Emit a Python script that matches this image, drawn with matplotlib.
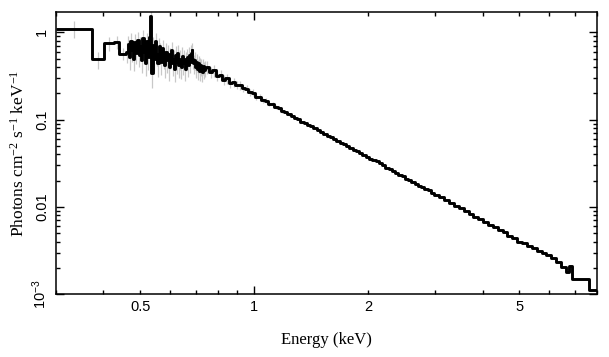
import numpy as np
import matplotlib
matplotlib.use("Agg")
import matplotlib.pyplot as plt
from matplotlib.ticker import LogLocator, FuncFormatter, NullFormatter

# bin edges (keV): coarse low-energy bins, noisy region, fine bins, coarser high-energy bins
low_edges = [0.300, 0.374, 0.402, 0.427, 0.441]
noisy_edges = [0.459, 0.463, 0.467, 0.471, 0.475, 0.479, 0.483, 0.487, 0.491, 0.495,
               0.499, 0.503, 0.507, 0.511, 0.515, 0.519, 0.523, 0.527, 0.531, 0.535,
               0.539, 0.543, 0.547, 0.551, 0.555, 0.559, 0.563, 0.567, 0.571, 0.575,
               0.579, 0.583, 0.587, 0.591, 0.595, 0.599, 0.603, 0.607, 0.611, 0.615,
               0.619, 0.623, 0.627, 0.631, 0.635, 0.639, 0.643, 0.647, 0.651, 0.655,
               0.659, 0.663, 0.667, 0.671, 0.675, 0.679, 0.683, 0.687, 0.691, 0.695,
               0.699, 0.703, 0.707, 0.711, 0.715, 0.719, 0.723, 0.727, 0.731, 0.735,
               0.739]
fine_edges = [0.745, 0.760, 0.775, 0.791, 0.806, 0.823, 0.839, 0.856, 0.873, 0.890,
              0.908, 0.926, 0.945, 0.964, 0.983, 1.003, 1.023, 1.043, 1.064, 1.085,
              1.107, 1.129, 1.152, 1.175, 1.198, 1.222, 1.247, 1.272, 1.297, 1.323,
              1.350, 1.377, 1.404, 1.432, 1.461, 1.490, 1.520, 1.551, 1.582, 1.613,
              1.646, 1.679, 1.712, 1.746, 1.781, 1.817, 1.853, 1.890, 1.928, 1.967,
              2.006, 2.046, 2.087, 2.129, 2.171, 2.215, 2.259, 2.304, 2.350, 2.397,
              2.445, 2.494, 2.544, 2.595, 2.647, 2.700, 2.754, 2.809, 2.865, 2.923]
high_edges = [2.981, 3.075, 3.167, 3.262, 3.360, 3.461, 3.564, 3.671, 3.781, 3.895,
              4.012, 4.132, 4.256, 4.384, 4.515, 4.651, 4.790, 4.934, 5.082, 5.234,
              5.391, 5.553, 5.720, 5.891, 6.068, 6.250, 6.437, 6.630, 6.750, 6.900,
              7.620, 8.000]

# photons cm^-2 s^-1 keV^-1 per bin
low_flux = [1.10, 0.49, 0.748, 0.775, 0.57]
noisy_flux = [0.60, 0.74, 0.52, 0.80, 0.62, 0.50, 0.78, 0.58, 0.82, 0.55,
              0.70, 0.48, 0.86, 0.60, 0.45, 0.80, 0.52, 0.88, 1.52, 0.34,
              0.72, 0.50, 0.80, 0.56, 0.44, 0.70, 0.60, 0.46, 0.66, 0.52,
              0.42, 0.60, 0.48, 0.56, 0.40, 0.52, 0.62, 0.44, 0.50, 0.38,
              0.55, 0.46, 0.58, 0.42, 0.50, 0.40, 0.54, 0.44, 0.50, 0.38,
              0.48, 0.52, 0.42, 0.55, 0.46, 0.58, 0.62, 0.50, 0.44, 0.48,
              0.40, 0.46, 0.38, 0.44, 0.36, 0.42, 0.40, 0.35, 0.41, 0.37,
              0.39]
fine_flux = [0.400, 0.352, 0.365, 0.318, 0.328, 0.286, 0.296, 0.262, 0.270, 0.252,
             0.248, 0.228, 0.226, 0.206, 0.204, 0.183, 0.180, 0.166, 0.165, 0.151,
             0.149, 0.138, 0.135, 0.126, 0.122, 0.115, 0.111, 0.104, 0.101, 0.0950,
             0.0918, 0.0866, 0.0835, 0.0790, 0.0758, 0.0718, 0.0690, 0.0655, 0.0629, 0.0596,
             0.0572, 0.0542, 0.0520, 0.0493, 0.0473, 0.0449, 0.0431, 0.0409, 0.0392, 0.0372,
             0.0357, 0.0342, 0.0338, 0.0322, 0.0298, 0.0282, 0.0269, 0.0255, 0.0245, 0.0232,
             0.0223, 0.0211, 0.0203, 0.0192, 0.0185, 0.0175, 0.0169, 0.0159, 0.0154, 0.0145]
high_flux = [0.0138, 0.0131, 0.0121, 0.0111, 0.0103, 0.00960, 0.00888, 0.00830, 0.00772, 0.00722,
             0.00670, 0.00628, 0.00582, 0.00545, 0.00520, 0.00465, 0.00440, 0.00395, 0.00390, 0.00356,
             0.00335, 0.00309, 0.00295, 0.00280, 0.00262, 0.00233, 0.00205, 0.00180, 0.00210, 0.00148,
             0.00111]

# relative 1-sigma errors for the soft bins (harder bins hide under the line)
low_err = [0.22, 0.22, 0.18, 0.18, 0.16]
noisy_err = [0.26, 0.24, 0.28, 0.23, 0.26, 0.28, 0.24, 0.26, 0.23, 0.27,
             0.25, 0.29, 0.22, 0.26, 0.30, 0.23, 0.28, 0.22, 0.16, 0.32,
             0.24, 0.28, 0.23, 0.27, 0.30, 0.24, 0.26, 0.29, 0.25, 0.27,
             0.29, 0.25, 0.28, 0.26, 0.30, 0.27, 0.24, 0.28, 0.26, 0.30,
             0.25, 0.27, 0.24, 0.28, 0.26, 0.28, 0.24, 0.27, 0.25, 0.28,
             0.25, 0.24, 0.27, 0.23, 0.25, 0.22, 0.21, 0.24, 0.25, 0.24,
             0.25, 0.23, 0.25, 0.22, 0.24, 0.22, 0.22, 0.23, 0.21, 0.22,
             0.21]
fine_err = [0.16, 0.15, 0.15, 0.14, 0.14, 0.13, 0.13, 0.12, 0.12, 0.11,
            0.11, 0.10, 0.10, 0.09, 0.09, 0.08, 0.08, 0.07, 0.07, 0.06,
            0.06, 0.05, 0.05, 0.05, 0.04, 0.04]

edges = np.array(low_edges + noisy_edges + fine_edges + high_edges)
flux = np.array(low_flux + noisy_flux + fine_flux + high_flux)
rel_err = np.array(low_err + noisy_err + fine_err)

serif = ['Liberation Serif', 'DejaVu Serif']
sans = ['Liberation Sans', 'DejaVu Sans']
plt.rcParams['font.family'] = sans

fig = plt.figure(figsize=(6.09, 3.57), dpi=100)
ax = fig.add_axes([0.092, 0.176, 0.888, 0.790])

n = len(rel_err)
centers = np.sqrt(edges[:n] * edges[1:n + 1])
ax.errorbar(centers, flux[:n], yerr=flux[:n] * rel_err, fmt='none',
            ecolor='#c8c8c8', elinewidth=0.9, zorder=1)
ax.stairs(flux, edges, baseline=None, color='black', linewidth=2.1,
          joinstyle='round', zorder=2)

ax.set_xscale('log')
ax.set_yscale('log')
ax.set_xlim(0.3, 8.0)
ax.set_ylim(1e-3, 1.7)

# x: long tick only at decades, labels on 0.5, 1, 2, 5
ax.xaxis.set_major_locator(LogLocator(base=10, subs=(1.0,)))
ax.xaxis.set_minor_locator(LogLocator(base=10, subs=np.arange(2, 10)))
xlabels = [0.5, 1, 2, 5]
def xfmt(v, pos):
    for t in xlabels:
        if np.isclose(v, t):
            return '%g' % t
    return ''
ax.xaxis.set_major_formatter(FuncFormatter(xfmt))
ax.xaxis.set_minor_formatter(FuncFormatter(xfmt))

ax.yaxis.set_major_locator(LogLocator(base=10, subs=(1.0,)))
ax.yaxis.set_minor_locator(LogLocator(base=10, subs=np.arange(2, 10)))
ylab = {1.0: '1', 0.1: '0.1', 0.01: '0.01', 0.001: r'$\mathregular{10^{-3}}$'}
def yfmt(v, pos):
    for k, s in ylab.items():
        if np.isclose(v, k):
            return s
    return ''
ax.yaxis.set_major_formatter(FuncFormatter(yfmt))
ax.yaxis.set_minor_formatter(NullFormatter())

ax.tick_params(which='both', direction='in', top=True, right=True, width=1.0,
               labelsize=10.5, color='black')
ax.tick_params(which='major', length=5.5)
ax.tick_params(which='minor', length=2.6)
ax.tick_params(axis='x', which='both', pad=4)
ax.tick_params(axis='y', which='both', pad=5, labelrotation=90)
for lab in ax.get_yticklabels():
    lab.set_va('center')
for s in ax.spines.values():
    s.set_linewidth(1.1)

ax.set_xlabel('Energy (keV)', family=serif, fontsize=12, labelpad=13)
ax.set_ylabel(r'Photons cm$\mathregular{^{-2}}$ s$\mathregular{^{-1}}$ keV$\mathregular{^{-1}}$',
              family=serif, fontsize=12.5, labelpad=2)

fig.savefig('out.png', dpi=100)
